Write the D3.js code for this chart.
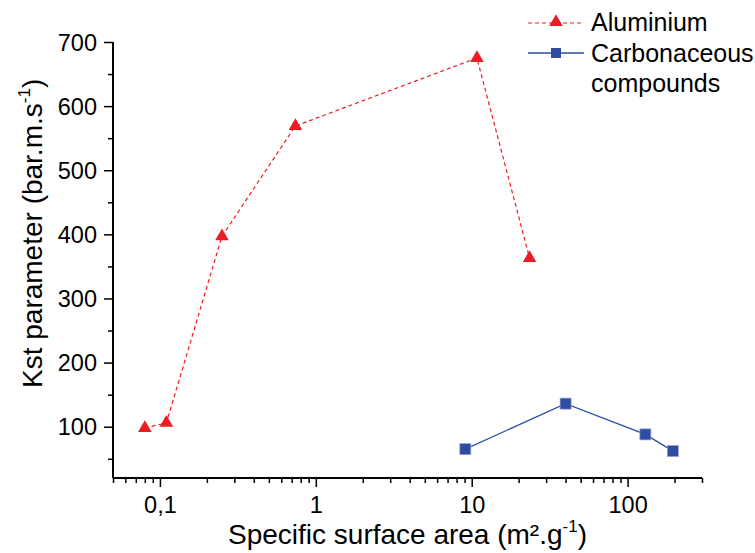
<!DOCTYPE html>
<html>
<head>
<meta charset="utf-8">
<script src="https://cdn.jsdelivr.net/npm/d3@7"></script>
<style>
  body { margin: 0; background: #fff; }
  svg { font-family: "Liberation Sans", Arial, sans-serif; }
</style>
</head>
<body>
<div id="chart"></div>
<script>
// data
var aluX = [0.08, 0.11, 0.25, 0.74, 10.8, 23.5];
var aluY = [98, 106, 397, 569, 675, 363];
var carbX = [9.1, 40, 130, 195];
var carbY = [65, 136, 88, 62];

var xMajor = [0.1, 1, 10, 100];
var xMajorLabels = ["0,1", "1", "10", "100"];
var yMajor = [100, 200, 300, 400, 500, 600, 700];

var red = "#ec1c24";
var blue = "#2e4da2";

const W = 755, H = 553;
const margin = {top: 42, right: 53, bottom: 75, left: 113};
const width = W - margin.left - margin.right,
      height = H - margin.top - margin.bottom;

const svg = d3.select("#chart").append("svg")
  .attr("width", W)
  .attr("height", H);

const g = svg.append("g")
  .attr("transform", `translate(${margin.left}, ${margin.top})`);

const x = d3.scaleLog().domain([0.05, 300]).range([0, width]);
const y = d3.scaleLinear().domain([20, 700]).range([height, 0]);

// minor ticks for log axis
var xMinor = [];
[0.01, 0.1, 1, 10, 100].forEach(function(dec) {
  for (let k = 2; k <= 9; k++) {
    let v = dec * k;
    if (v >= 0.05 && v <= 300.0001 && xMajor.indexOf(v) < 0) xMinor.push(v);
  }
});
var yMinor = d3.range(50, 701, 100);

// x axis
const xAxisG = g.append("g").attr("transform", `translate(0, ${height})`);
xAxisG.call(d3.axisBottom(x).tickValues(xMinor).tickSize(5).tickFormat(""));
xAxisG.append("g").call(d3.axisBottom(x).tickValues(xMajor).tickSize(9)
  .tickFormat((d, i) => xMajorLabels[i]));
xAxisG.selectAll(".domain").attr("stroke-width", 2).attr("d", `M0,0H${width}`);
xAxisG.selectAll("line").attr("stroke-width", 1.5);
xAxisG.selectAll("text").style("font-size", "23.5px").attr("fill", "#000")
  .attr("y", 35).attr("dy", 0);

// y axis
const yAxisG = g.append("g");
yAxisG.call(d3.axisLeft(y).tickValues(yMinor).tickSize(5).tickFormat(""));
yAxisG.append("g").call(d3.axisLeft(y).tickValues(yMajor).tickSize(9));
yAxisG.selectAll(".domain").attr("stroke-width", 2).attr("d", `M0,0V${height}`);
yAxisG.selectAll("line").attr("stroke-width", 1.5);
yAxisG.selectAll("text").style("font-size", "23.5px").attr("fill", "#000")
  .attr("x", -16).attr("dy", "0.34em");

// lines
const line = d3.line().x(d => x(d[0])).y(d => y(d[1]));
var alu = aluX.map((v, i) => [v, aluY[i]]);
var carb = carbX.map((v, i) => [v, carbY[i]]);

g.append("path").datum(alu).attr("d", line)
  .attr("fill", "none").attr("stroke", red).attr("stroke-width", 1.2)
  .attr("stroke-dasharray", "4,3");
g.append("path").datum(carb).attr("d", line)
  .attr("fill", "none").attr("stroke", blue).attr("stroke-width", 1.3);

const tri = d3.symbol().type(d3.symbolTriangle).size(80);
g.selectAll(".tri").data(alu).join("path")
  .attr("class", "tri")
  .attr("transform", d => `translate(${x(d[0])}, ${y(d[1])})`)
  .attr("d", tri).attr("fill", red);

g.selectAll(".sq").data(carb).join("rect")
  .attr("class", "sq")
  .attr("x", d => x(d[0]) - 5.5).attr("y", d => y(d[1]) - 5.5)
  .attr("width", 11).attr("height", 11)
  .attr("fill", blue).attr("stroke", "#8fa3d6").attr("stroke-width", 0.7);

// legend
const leg = svg.append("g");
leg.append("line").attr("x1", 528).attr("x2", 584).attr("y1", 23).attr("y2", 23)
  .attr("stroke", red).attr("stroke-width", 1.2).attr("stroke-dasharray", "4,3");
leg.append("path").attr("transform", "translate(556, 22)").attr("d", tri).attr("fill", red);
leg.append("text").attr("x", 591).attr("y", 31).style("font-size", "25px").text("Aluminium");

leg.append("line").attr("x1", 528).attr("x2", 584).attr("y1", 53).attr("y2", 53)
  .attr("stroke", blue).attr("stroke-width", 1.3);
leg.append("rect").attr("x", 551).attr("y", 48).attr("width", 10).attr("height", 10)
  .attr("fill", blue);
leg.append("text").attr("x", 591).attr("y", 62).style("font-size", "25px").text("Carbonaceous");
leg.append("text").attr("x", 591).attr("y", 92).style("font-size", "25px").text("compounds");

// axis titles
const xt = svg.append("text")
  .attr("x", margin.left + width / 2).attr("y", 544)
  .attr("text-anchor", "middle").style("font-size", "28px");
xt.append("tspan").text("Specific surface area (m².g");
xt.append("tspan").attr("dy", -12).style("font-size", "17px").text("-1");
xt.append("tspan").attr("dy", 12).text(")");

const yt = svg.append("text")
  .attr("transform", "translate(42, 388) rotate(-90)")
  .attr("text-anchor", "start").style("font-size", "28px");
yt.append("tspan").text("Kst parameter (bar.m.s");
yt.append("tspan").attr("dy", -12).style("font-size", "17px").text("-1");
yt.append("tspan").attr("dy", 12).text(")");
</script>
</body>
</html>
